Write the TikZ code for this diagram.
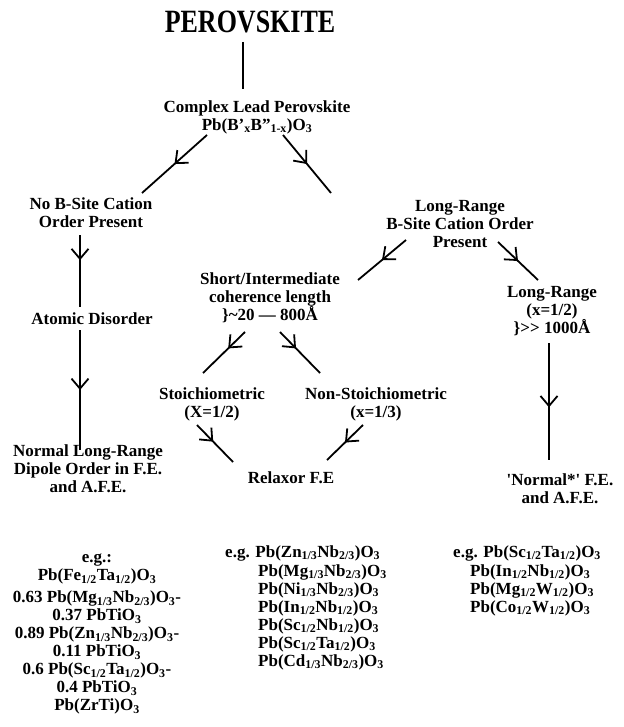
\documentclass[tikz,border=0pt]{standalone}
\usepackage{fontspec}
\usepackage{graphicx}
\setmainfont{Liberation Serif}
\usetikzlibrary{arrows.meta,decorations.markings}
\newcommand{\ix}[1]{\textsubscript{#1}}

\begin{document}
\begin{tikzpicture}[x=1pt,y=-1pt,
  font=\fontsize{17}{18}\selectfont\bfseries,
  txt/.style={align=center,inner sep=0pt},
  lst/.style={align=left,inner sep=0pt,anchor=west},
  con/.style={line width=1.8pt},
  midarrow/.style={con,decoration={markings,mark=at position #1 with {\arrow{Straight Barb[length=10pt,width=17pt,line width=1.8pt]}}},postaction={decorate}},
  midarrow/.default=0.5]
  \useasboundingbox (0,0) rectangle (623,727);
  % cabecera
  \node[txt,font=\fontsize{26}{30}\selectfont\bfseries] (perov) at (250,22) {\scalebox{1}[1.25]{PEROVSKITE}};
  \node[txt] (cplx) at (257,117) {Complex Lead Perovskite\\Pb(B'\ix{x}B''\ix{1-x})O\ix{3}};
  % rama izquierda
  \node[txt] (nob) at (91,213) {No B-Site Cation\\Order Present};
  \node[txt] (atom) at (92,319) {Atomic Disorder};
  \node[txt] (lrfe) at (88,469) {Normal Long-Range\\Dipole Order in F.E.\\and A.F.E.};
  % rama derecha
  \node[txt] (lrb) at (460,224) {Long-Range\\B-Site Cation Order\\Present};
  \node[txt] (short) at (270,298) {Short/Intermediate\\coherence length\\\}\textasciitilde20 --- 800Å};
  \node[txt] (lrx) at (552,311) {Long-Range\\(x=1/2)\\\}{>}{>} 1000Å};
  \node[txt] (stoi) at (212,404) {Stoichiometric\\(X=1/2)};
  \node[txt] (nons) at (376,404) {Non-Stoichiometric\\(x=1/3)};
  \node[txt] (relax) at (291,478) {Relaxor F.E};
  \node[txt] (nfe) at (560,489) {\textquotesingle Normal*\textquotesingle{} F.E.\\and A.F.E.};
  % ejemplos
  \node[txt] (egl) at (97,634) {e.g.:\\Pb(Fe\ix{1/2}Ta\ix{1/2})O\ix{3}\\[4pt]0.63 Pb(Mg\ix{1/3}Nb\ix{2/3})O\ix{3}-\\0.37 PbTiO\ix{3}\\0.89 Pb(Zn\ix{1/3}Nb\ix{2/3})O\ix{3}-\\0.11 PbTiO\ix{3}\\0.6 Pb(Sc\ix{1/2}Ta\ix{1/2})O\ix{3}-\\0.4 PbTiO\ix{3}\\Pb(ZrTi)O\ix{3}};
  \node[lst] (egm) at (225,553) {e.g. Pb(Zn\ix{1/3}Nb\ix{2/3})O\ix{3}};
  \node[lst] (listm) at (258,617) {Pb(Mg\ix{1/3}Nb\ix{2/3})O\ix{3}\\Pb(Ni\ix{1/3}Nb\ix{2/3})O\ix{3}\\Pb(In\ix{1/2}Nb\ix{1/2})O\ix{3}\\Pb(Sc\ix{1/2}Nb\ix{1/2})O\ix{3}\\Pb(Sc\ix{1/2}Ta\ix{1/2})O\ix{3}\\Pb(Cd\ix{1/3}Nb\ix{2/3})O\ix{3}};
  \node[lst] (egr) at (453,553) {e.g. Pb(Sc\ix{1/2}Ta\ix{1/2})O\ix{3}};
  \node[lst] (listr) at (470,590) {Pb(In\ix{1/2}Nb\ix{1/2})O\ix{3}\\Pb(Mg\ix{1/2}W\ix{1/2})O\ix{3}\\Pb(Co\ix{1/2}W\ix{1/2})O\ix{3}};
  % flechas
  \draw[con] ([shift={(-7,20)}]perov.center) -- ([shift={(-14,-28)}]cplx.center);
  \draw[midarrow] ([shift={(-50,18)}]cplx.center) -- ([shift={(51,-20)}]nob.center);
  \draw[midarrow] ([shift={(26,18)}]cplx.center) -- ([shift={(-129,-31)}]lrb.center);
  \draw[midarrow=0.35] ([shift={(-11,22)}]nob.center) -- ([shift={(-12,-12)}]atom.center);
  \draw[midarrow] ([shift={(-12,11)}]atom.center) -- ([shift={(-8,-19)}]lrfe.center);
  \draw[midarrow] ([shift={(-54,16)}]lrb.center) -- ([shift={(88,-18)}]short.center);
  \draw[midarrow] ([shift={(38,18)}]lrb.center) -- ([shift={(-14,-31)}]lrx.center);
  \draw[midarrow=0.4] ([shift={(-25,34)}]short.center) -- ([shift={(-9,-31)}]stoi.center);
  \draw[midarrow=0.4] ([shift={(10,34)}]short.center) -- ([shift={(-56,-31)}]nons.center);
  \draw[midarrow=0.45] ([shift={(-15,21)}]stoi.center) -- ([shift={(-58,-16)}]relax.center);
  \draw[midarrow] ([shift={(-13,21)}]nons.center) -- ([shift={(36,-18)}]relax.center);
  \draw[midarrow=0.55] ([shift={(-3,32)}]lrx.center) -- ([shift={(-11,-29)}]nfe.center);
\end{tikzpicture}
\end{document}
